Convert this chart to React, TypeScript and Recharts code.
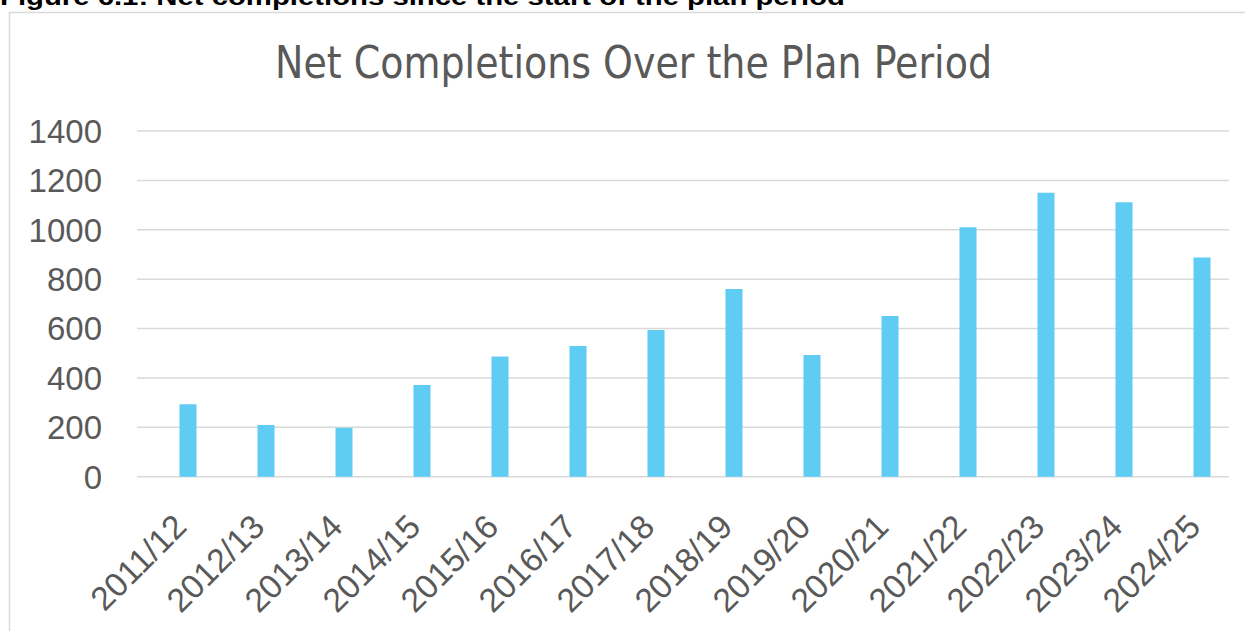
import React from "react";
import { BarChart, Bar, XAxis, YAxis, CartesianGrid } from "recharts";

// Plan years and net completions
const years = [
    "2011/12", "2012/13", "2013/14", "2014/15", "2015/16", "2016/17", "2017/18",
    "2018/19", "2019/20", "2020/21", "2021/22", "2022/23", "2023/24", "2024/25",
];
const completions = [293, 209, 198, 371, 487, 529, 594, 760, 493, 651, 1010, 1150, 1111, 888];
const yTicks = [0, 200, 400, 600, 800, 1000, 1200, 1400];

const chartData = years.map((year, i) => ({ year, value: completions[i] }));

const GREY = "#595959";
const FONT = "'Liberation Sans', Arial, sans-serif";

const XTick = (props: any) => {
    const { x, y, payload } = props;
    const px = x + 1;
    const py = y + 44;
    return (
        <text
            x={px}
            y={py}
            textAnchor="end"
            fill={GREY}
            fontSize={33.5}
            fontFamily={FONT}
            transform={`rotate(-45, ${px}, ${py})`}
        >
            {payload.value}
        </text>
    );
};

const YTick = (props: any) => {
    const { y, payload } = props;
    return (
        <text x={102} y={y} dy="0.36em" textAnchor="end" fill={GREY} fontSize={33} fontFamily={FONT}>
            {payload.value}
        </text>
    );
};

export default function App() {
    return (
        <div
            style={{
                position: "absolute",
                left: 0,
                top: 0,
                width: 1245,
                height: 631,
                overflow: "hidden",
                background: "#fff",
            }}
        >
            <svg width={1245} height={631} style={{ position: "absolute", left: 0, top: 0 }}>
                <text
                    x={0}
                    y={5}
                    fontFamily={FONT}
                    fontWeight="bold"
                    fontSize={23}
                    fill="#000"
                    textLength={845}
                    lengthAdjust="spacingAndGlyphs"
                >
                    Figure 6.1: Net completions since the start of the plan period
                </text>
                <rect x={9.5} y={12.5} width={1300} height={700} fill="none" stroke="#d9d9d9" strokeWidth={1.5} />
                <text
                    x={633.5}
                    y={78}
                    textAnchor="middle"
                    fontFamily="'Liberation Sans Narrow', 'DejaVu Sans Condensed', 'Liberation Sans', sans-serif"
                    fontSize={44}
                    fill={GREY}
                    textLength={717}
                    lengthAdjust="spacingAndGlyphs"
                >
                    Net Completions Over the Plan Period
                </text>
            </svg>
            <div style={{ position: "absolute", left: 0, top: 0 }}>
                <BarChart
                    width={1245}
                    height={631}
                    data={chartData}
                    margin={{ top: 131, right: 4.5, bottom: 54.3, left: 0 }}
                >
                    <CartesianGrid vertical={false} stroke="#d9d9d9" strokeWidth={1.5} x={137} width={1092} />
                    <XAxis
                        dataKey="year"
                        height={100}
                        axisLine={false}
                        tickLine={false}
                        interval={0}
                        tick={<XTick />}
                    />
                    <YAxis
                        width={148.5}
                        domain={[0, 1400]}
                        ticks={yTicks}
                        axisLine={false}
                        tickLine={false}
                        tick={<YTick />}
                    />
                    <Bar dataKey="value" fill="#5fccf3" barSize={17} isAnimationActive={false} />
                </BarChart>
            </div>
        </div>
    );
}
